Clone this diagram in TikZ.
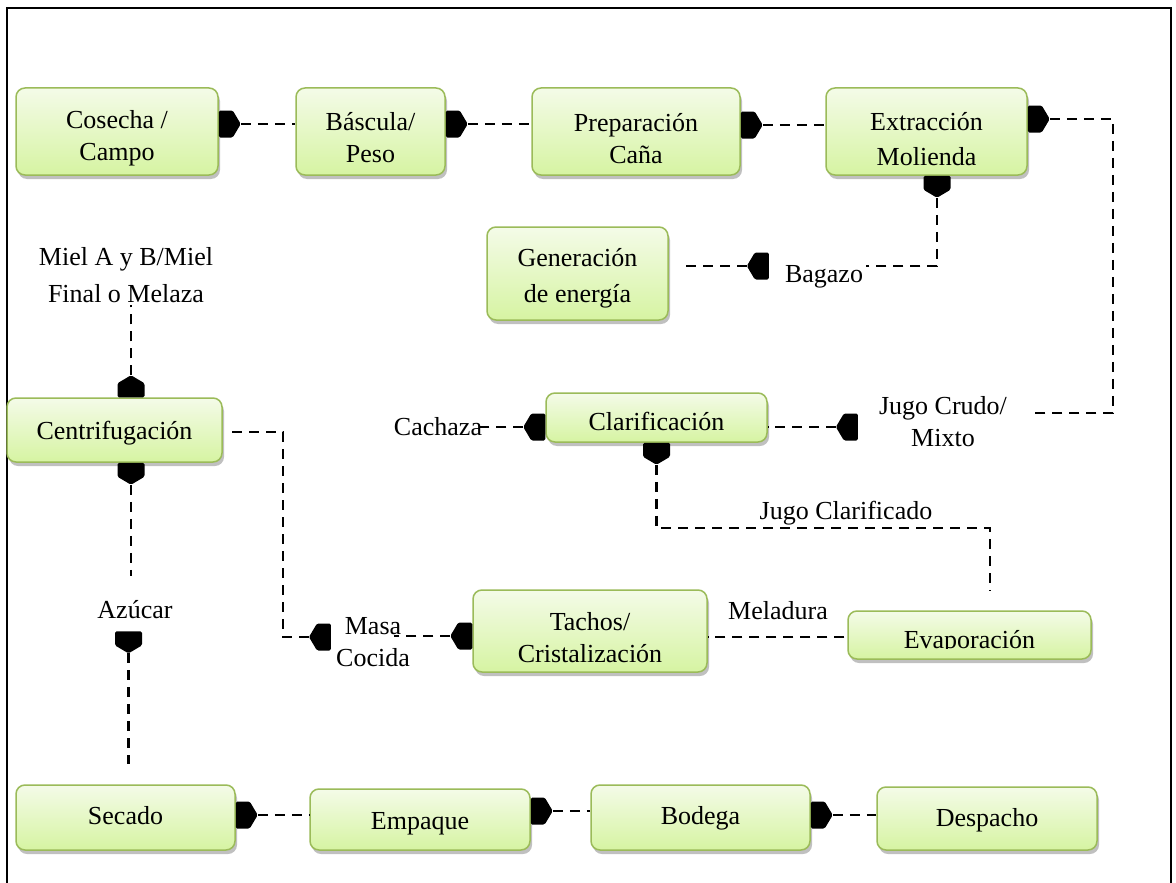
\documentclass[tikz,border=0pt]{standalone}
\usepackage{fontspec}
\setmainfont{Liberation Serif}
\usetikzlibrary{shadows,calc}
\definecolor{bxedge}{HTML}{9BBB59}
\definecolor{bxtop}{HTML}{F4FBE8}
\definecolor{bxbot}{HTML}{D6F4A2}
\begin{document}
\begin{tikzpicture}[x=1pt,y=-1pt,
  box/.style={draw=bxedge, line width=1.5pt, rounded corners=9pt,
    top color=bxtop, bottom color=bxbot,
    drop shadow={shadow xshift=2pt,shadow yshift=-4pt,opacity=0.35,fill=black!70},
    inner sep=0pt},
  lbl/.style={align=center, inner sep=0pt, font=\fontsize{26}{32}\selectfont},
  link/.style={dash pattern=on 10pt off 7pt, line width=2.7pt},
  mk/.pic={\fill[rounded corners=1.5pt] (0,-13.5) -- (14,-13.5) -- (22,0) -- (14,13.5) -- (0,13.5) -- cycle;}
]
\useasboundingbox (0,0) rectangle (1176,883);
\fill[white] (0,0) rectangle (1176,883);
\draw[line width=2.2pt] (7,883) -- (7,8) -- (1171,8) -- (1171,883);

% boxes
\node[box, minimum width=202pt, minimum height=87pt] (cos) at (117,131.5) {};
\node[box, minimum width=149pt, minimum height=87pt] (bas) at (370.5,131.5) {};
\node[box, minimum width=208pt, minimum height=87pt] (pre) at (636,131.5) {};
\node[box, minimum width=201pt, minimum height=87pt] (ext) at (926.5,131.5) {};
\node[box, minimum width=181pt, minimum height=93pt] (gen) at (577.5,273.5) {};
\node[box, minimum width=215pt, minimum height=64pt] (cen) at (114.5,430) {};
\node[box, minimum width=221pt, minimum height=49pt] (cla) at (656.5,417.5) {};
\node[box, minimum width=234pt, minimum height=82pt] (tac) at (590,631) {};
\node[box, minimum width=243pt, minimum height=48pt] (eva) at (969.5,635) {};
\node[box, minimum width=219pt, minimum height=65pt] (sec) at (125.5,817.5) {};
\node[box, minimum width=220pt, minimum height=61pt] (emp) at (420,819.5) {};
\node[box, minimum width=219pt, minimum height=65pt] (bod) at (700.5,817.5) {};
\node[box, minimum width=220pt, minimum height=63pt] (des) at (987,818.5) {};

% box texts
\node[lbl] (cosT) at ([yshift=-7pt]cos.center) {Cosecha /\\Campo};
\node[lbl] (basT) at ([yshift=-6pt]bas.center) {Báscula/\\Peso};
\node[lbl] (preT) at ([yshift=-7pt]pre.center) {Preparación\\Caña};
\node[lbl] (extT) at ([yshift=-8pt]ext.center) {Extracción\\[3pt]Molienda};
\node[lbl] (genT) at ([yshift=-5pt]gen.center) {Generación\\[4pt]de energía};
\node[lbl] (cenT) at ([yshift=-3pt]cen.center) {Centrifugación};
\node[lbl] (claT) at ([yshift=-4pt]cla.center) {Clarificación};
\node[lbl] (tacT) at ([yshift=-7pt]tac.center) {Tachos/\\Cristalización};
\begin{scope}
  \clip (848,600) rectangle (1091,648.5);
  \node[lbl, anchor=base] (evaT) at (969.5,648) {Evaporación};
\end{scope}
\node[lbl] (secT) at ([yshift=2pt]sec.center) {Secado};
\node[lbl] (empT) at ([yshift=-4pt]emp.center) {Empaque};
\node[lbl] (bodT) at ([yshift=-1pt]bod.center) {Bodega};
\node[lbl] (desT) at ([yshift=-2pt]des.center) {Despacho};

% labels
\node[lbl] (miel) at (126,275) {Miel A y B/Miel\\[5pt]Final o Melaza};
\node[lbl] (bag) at (824,277) {Bagazo};
\node[lbl] (jug) at (943,422) {Jugo Crudo/\\Mixto};
\node[lbl] (cac) at (438,427) {Cachaza};
\node[lbl] (jcl) at (846,513) {Jugo Clarificado};
\node[lbl] (mel) at (778,611) {Meladura};
\node[lbl] (masa) at (373,642) {Masa\\Cocida};
\node[lbl] (azu) at (135,610) {Azúcar};

\coordinate (c1) at (1113,413);
\coordinate (c2) at (990,528);
\coordinate (c3) at (283,432);

% top row
\pic at ([yshift=7.5pt]cos.east) {mk};
\draw[link] ([xshift=22pt,yshift=7.5pt]cos.east) -- ([yshift=7.5pt]bas.west);
\pic at ([yshift=7.5pt]bas.east) {mk};
\draw[link] ([xshift=22pt,yshift=7.5pt]bas.east) -- ([yshift=7.5pt]pre.west);
\pic at ([yshift=6.5pt]pre.east) {mk};
\draw[link] ([xshift=22pt,yshift=6.5pt]pre.east) -- ([yshift=6.5pt]ext.west);

% extraction -> jugo crudo -> clarificacion
\pic at ([yshift=12.5pt]ext.east) {mk};
\draw[link] ([xshift=22pt,yshift=12.5pt]ext.east) -| (c1) -- ([xshift=25pt,yshift=9pt]jug.east);
\pic[rotate=180] at ([xshift=-21pt,yshift=-5pt]jug.west) {mk};
\draw[link] ([xshift=-43pt,yshift=-5pt]jug.west) -- ([yshift=-9.5pt]cla.east);
\pic[rotate=180] at ([yshift=-9.5pt]cla.west) {mk};
\draw[link] ([xshift=-22pt,yshift=-9.5pt]cla.west) -- ([xshift=-4pt]cac.east);

% extraction -> bagazo -> generacion
\pic[rotate=-90] at ([xshift=10.5pt]ext.south) {mk};
\draw[link] ([xshift=10.5pt,yshift=-22pt]ext.south) |- ([xshift=3pt,yshift=11pt]bag.east);
\pic[rotate=180] at ([xshift=-16pt,yshift=11pt]bag.west) {mk};
\draw[link] ([xshift=-38pt,yshift=11pt]bag.west) -- ([xshift=12pt,yshift=7.5pt]gen.east);

% clarificacion -> evaporacion
\pic[rotate=-90] at (cla.south) {mk};
\draw[link] ([yshift=-22pt]cla.south) |- (c2) -- ([xshift=20.5pt,yshift=19pt]eva.north);

% evaporacion -> tachos
\draw[link] ([xshift=-3pt,yshift=-2pt]eva.west) -- ([yshift=-6pt]tac.east);

% tachos -> masa cocida -> centrifugacion
\pic[rotate=180] at ([yshift=-5pt]tac.west) {mk};
\draw[link] ([xshift=-22pt,yshift=-5pt]tac.west) -- ([xshift=-16pt,yshift=6pt]masa.east);
\pic[rotate=180] at ([xshift=-5pt,yshift=5pt]masa.west) {mk};
\draw[link] ([xshift=-27pt,yshift=5pt]masa.west) -| (c3) -- ([xshift=8pt,yshift=-2pt]cen.east);

% centrifugacion -> miel / azucar
\pic[rotate=90] at ([xshift=16.5pt]cen.north) {mk};
\draw[link] ([xshift=16.5pt,yshift=22pt]cen.north) -- ([xshift=5pt,yshift=-2pt]miel.south);
\pic[rotate=-90] at ([xshift=16.5pt]cen.south) {mk};
\draw[link] ([xshift=16.5pt,yshift=-22pt]cen.south) -- ([xshift=-4pt,yshift=25pt]azu.north);
\pic[rotate=-90] at ([xshift=-6.5pt,yshift=-12pt]azu.south) {mk};
\draw[link] ([xshift=-6.5pt,yshift=-34pt]azu.south) -- ([xshift=3pt,yshift=20pt]sec.north);

% bottom row
\pic at ([yshift=2.5pt]sec.east) {mk};
\draw[link] ([xshift=22pt,yshift=2.5pt]sec.east) -- ([yshift=4.5pt]emp.west);
\pic at ([yshift=8.5pt]emp.east) {mk};
\draw[link] ([xshift=22pt,yshift=8.5pt]emp.east) -- ([yshift=6.5pt]bod.west);
\pic at ([yshift=2.5pt]bod.east) {mk};
\draw[link] ([xshift=22pt,yshift=2.5pt]bod.east) -- ([yshift=3.5pt]des.west);
\end{tikzpicture}
\end{document}
